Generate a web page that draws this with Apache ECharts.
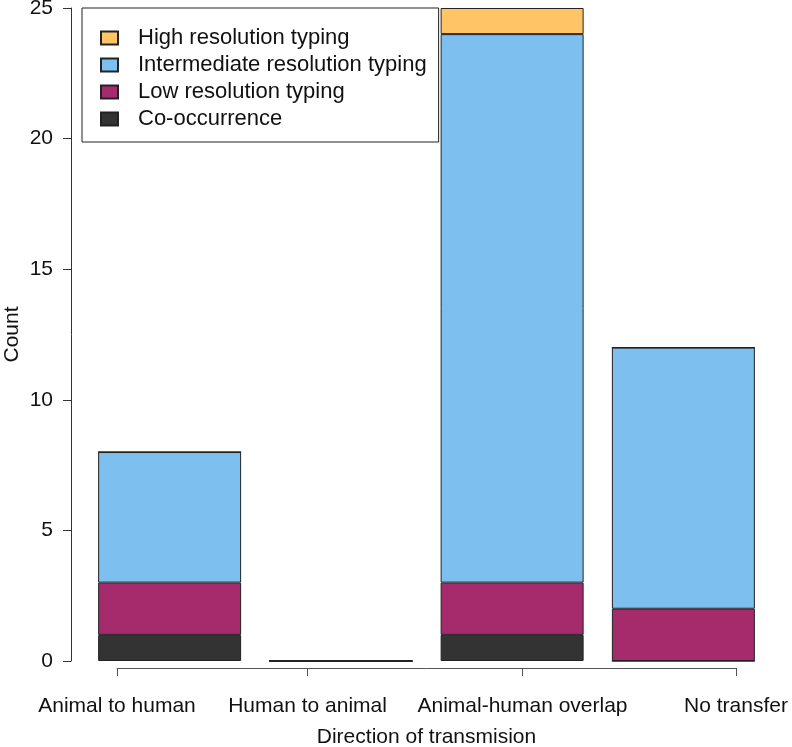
<!DOCTYPE html>
<html>
<head>
<meta charset="utf-8">
<script src="https://cdn.jsdelivr.net/npm/echarts@6/dist/echarts.min.js"></script>
<style>
  html, body { margin: 0; padding: 0; background: #fff; }
  #chart { width: 792px; height: 747px; }
</style>
</head>
<body>
<div id="chart"></div>
<script>
// ---- data ----
var categories = ['Animal to human', 'Human to animal', 'Animal-human overlap', 'No transfer'];
var coOccurrence = [1, 0, 1, 0];
var lowRes = [2, 0, 2, 2];
var intermediateRes = [5, 0, 21, 10];
var highRes = [0, 0, 1, 0];
var yTicks = [0, 5, 10, 15, 20, 25];
// positions (plot units) where the x-axis labels sit
var xLabelPositions = [0.33, 1.66, 3.16, 4.65];
var seriesNames = ['Co-occurrence', 'Low resolution typing', 'Intermediate resolution typing', 'High resolution typing'];
var legendOrder = ['High resolution typing', 'Intermediate resolution typing', 'Low resolution typing', 'Co-occurrence'];
var colors = ['#333333', '#A62B6D', '#7DBFEE', '#FEC466'];

var FONT = '"Liberation Sans", Arial, sans-serif';
var chart = echarts.init(document.getElementById('chart'), null, { renderer: 'canvas' });

var values = [coOccurrence, lowRes, intermediateRes, highRes];
var series = values.map(function (vals, i) {
  return {
    name: seriesNames[i],
    type: 'bar',
    stack: 'total',
    xAxisIndex: 0,
    yAxisIndex: 0,
    barCategoryGap: '16.5%',
    data: vals,
    itemStyle: { color: colors[i], borderColor: '#222', borderWidth: 1 },
    emphasis: { disabled: true }
  };
});

chart.setOption({
  animation: false,
  backgroundColor: '#fff',
  textStyle: { fontFamily: FONT },
  grid: [
    { left: 84, right: 23, top: 8, bottom: 86, containLabel: false, outerBoundsMode: 'none' },
    { left: 117, right: 56, top: 600, bottom: 79, containLabel: false, outerBoundsMode: 'none' }
  ],
  legend: {
    data: legendOrder,
    orient: 'vertical',
    left: 82,
    top: 8,
    icon: 'rect',
    itemWidth: 17,
    itemHeight: 13,
    itemGap: 5,
    padding: [19, 12, 12, 18],
    borderColor: '#222',
    borderWidth: 1,
    backgroundColor: '#fff',
    selectedMode: false,
    textStyle: { fontFamily: FONT, fontSize: 22, color: '#111', lineHeight: 22, padding: [0, 0, 0, 15] }
  },
  xAxis: [
    {
      type: 'category',
      gridIndex: 0,
      data: categories,
      axisLine: { show: false },
      axisTick: { show: false },
      axisLabel: { show: false }
    },
    {
      type: 'value',
      gridIndex: 1,
      min: xLabelPositions[0],
      max: xLabelPositions[xLabelPositions.length - 1],
      splitLine: { show: false },
      axisLine: { show: true, lineStyle: { color: '#555', width: 1 } },
      axisTick: { show: true, length: 8, customValues: xLabelPositions, lineStyle: { color: '#555' } },
      axisLabel: {
        show: true,
        customValues: xLabelPositions,
        margin: 28,
        fontSize: 21,
        fontFamily: FONT,
        color: '#111',
        formatter: function (v) {
          var idx = -1;
          for (var k = 0; k < xLabelPositions.length; k++) {
            if (Math.abs(xLabelPositions[k] - v) < 1e-6) idx = k;
          }
          return idx >= 0 ? categories[idx] : '';
        }
      },
      name: 'Direction of transmision',
      nameLocation: 'middle',
      nameGap: 59,
      nameMoveOverlap: false,
      nameTextStyle: { fontSize: 21, fontFamily: FONT, color: '#111' }
    }
  ],
  yAxis: [
    {
      type: 'value',
      gridIndex: 0,
      min: yTicks[0],
      max: yTicks[yTicks.length - 1],
      interval: 5,
      offset: 13,
      splitLine: { show: false },
      axisLine: { show: true, lineStyle: { color: '#333', width: 1 } },
      axisTick: { show: true, length: 8, lineStyle: { color: '#333' } },
      axisLabel: { margin: 18, fontSize: 21, fontFamily: FONT, color: '#111' },
      name: 'Count',
      nameLocation: 'middle',
      nameGap: 48,
      nameMoveOverlap: false,
      nameTextStyle: { fontSize: 21, fontFamily: FONT, color: '#111' }
    },
    {
      type: 'value',
      gridIndex: 1,
      show: false
    }
  ],
  series: series
});
</script>
</body>
</html>
